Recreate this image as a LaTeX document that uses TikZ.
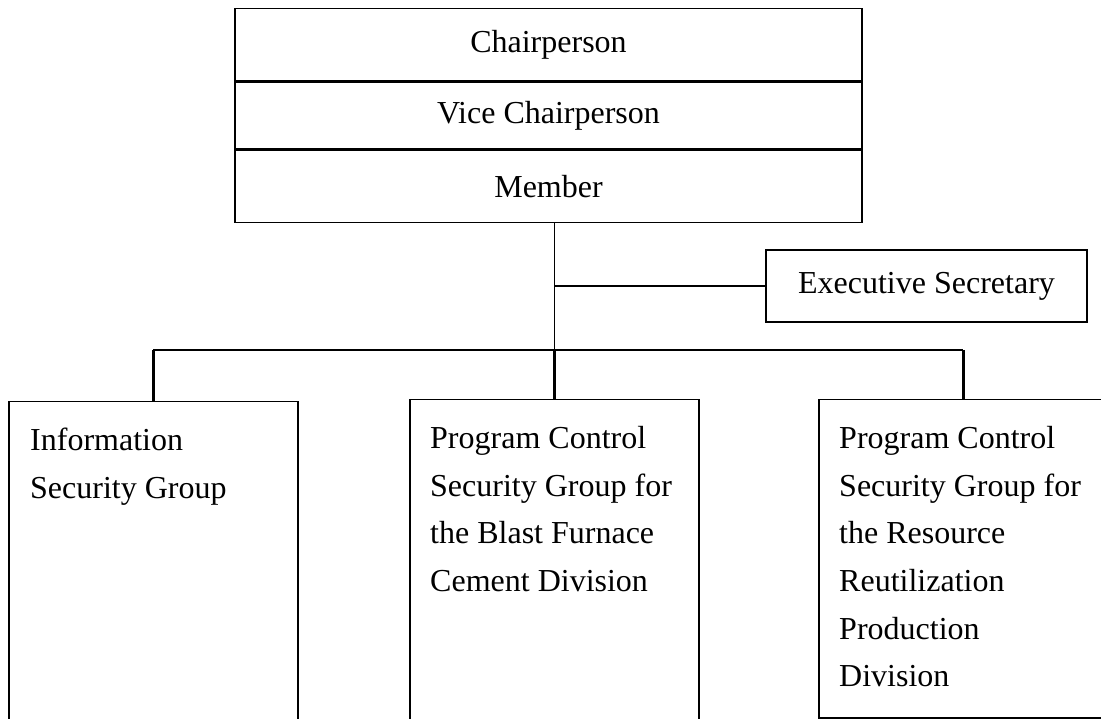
\documentclass[tikz,border=0pt]{standalone}
\usepackage{fontspec}
\setmainfont{Liberation Serif}
\usetikzlibrary{positioning}

\begin{document}
\begin{tikzpicture}[x=1pt, y=-1pt,
    box/.style={draw, line width=1.5pt, inner sep=0pt, font=\fontsize{32}{47.7}\selectfont},
    rank/.style={box, minimum width=627pt},
    group/.style={box, minimum width=289pt, anchor=north west},
    grouptext/.style={anchor=north west, inner sep=0pt, align=left, font=\fontsize{32}{47.7}\selectfont},
    link/.style={line width=1.2pt},
    stem/.style={line width=2.5pt}
]
\useasboundingbox (0,0) rectangle (1101,719);
\clip (0,0) rectangle (1101,719);

% committee
\node[rank, minimum height=72pt, anchor=north] (chair) at (548.5,8) {Chairperson};
\node[rank, minimum height=67pt, below=0pt of chair] (vice) {Vice Chairperson};
\node[rank, minimum height=72pt, below=0pt of vice] (member) {Member};
\node[box, minimum width=321pt, minimum height=72pt] (exec) at (926.5,286) {Executive Secretary};

% groups
\node[group, minimum height=340pt] (info) at (8,401) {};
\node[group, minimum height=340pt] (blast) at (409,399) {};
\node[group, minimum height=318pt] (reuse) at (818,399) {};
\node[grouptext] (infotxt) at ([shift={(22,27)}]info.north west) {Information\\Security Group};
\node[grouptext] (blasttxt) at ([shift={(21,27)}]blast.north west) {Program Control\\Security Group for\\the Blast Furnace\\Cement Division};
\node[grouptext] (reusetxt) at ([shift={(21,27)}]reuse.north west) {Program Control\\Security Group for\\the Resource\\Reutilization\\Production\\Division};

% connectors
\coordinate (bus) at (553,350);
\draw[link] (blast.north |- member.south) -- (blast.north |- bus);
\draw[stem] (blast.north |- bus) -- (blast.north);
\draw[stem] (blast.north |- exec.west) -- (exec.west);
\draw[link] (info.north |- bus) -- (reuse.north |- bus);
\draw[stem] (info.north |- bus) -- (info.north);
\draw[stem] (reuse.north |- bus) -- (reuse.north);
\end{tikzpicture}
\end{document}
